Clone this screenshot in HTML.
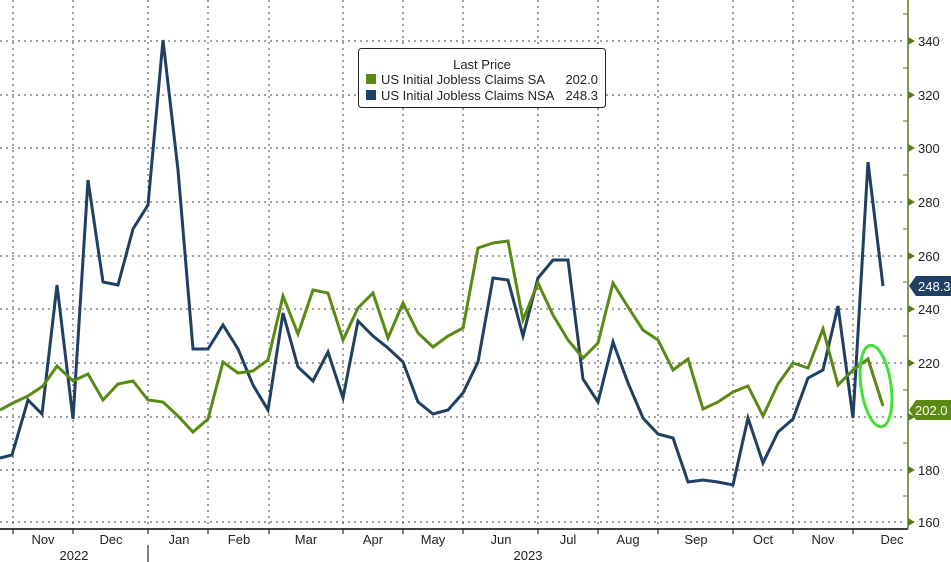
<!DOCTYPE html>
<html><head><meta charset="utf-8"><style>
html,body{margin:0;padding:0;background:#fff;}
svg{display:block;font-family:"Liberation Sans",sans-serif;}
</style></head><body>
<svg width="951" height="562" viewBox="0 0 951 562">
<rect width="951" height="562" fill="#fff"/>
<g stroke="#444" stroke-width="1" stroke-dasharray="2,4">
<line x1="0" y1="41" x2="906" y2="41"/><line x1="0" y1="95" x2="906" y2="95"/>
<line x1="0" y1="148" x2="906" y2="148"/><line x1="0" y1="202" x2="906" y2="202"/>
<line x1="0" y1="256" x2="906" y2="256"/><line x1="0" y1="309" x2="906" y2="309"/>
<line x1="0" y1="363" x2="906" y2="363"/><line x1="0" y1="417" x2="906" y2="417"/>
<line x1="0" y1="470" x2="906" y2="470"/><line x1="0" y1="522" x2="906" y2="522"/>
<line x1="13" y1="0" x2="13" y2="528"/><line x1="73" y1="0" x2="73" y2="528"/>
<line x1="148" y1="0" x2="148" y2="528"/><line x1="208" y1="0" x2="208" y2="528"/>
<line x1="269" y1="0" x2="269" y2="528"/><line x1="343" y1="0" x2="343" y2="528"/>
<line x1="403" y1="0" x2="403" y2="528"/><line x1="463" y1="0" x2="463" y2="528"/>
<line x1="538" y1="0" x2="538" y2="528"/><line x1="598" y1="0" x2="598" y2="528"/>
<line x1="658" y1="0" x2="658" y2="528"/><line x1="733" y1="0" x2="733" y2="528"/>
<line x1="793" y1="0" x2="793" y2="528"/><line x1="853" y1="0" x2="853" y2="528"/>
</g>
<line x1="0" y1="529" x2="908" y2="529" stroke="#000" stroke-width="1.5"/>
<g stroke="#000" stroke-width="1">
<line x1="13" y1="529" x2="13" y2="534"/><line x1="73" y1="529" x2="73" y2="534"/><line x1="148" y1="529" x2="148" y2="534"/><line x1="208" y1="529" x2="208" y2="534"/><line x1="269" y1="529" x2="269" y2="534"/><line x1="343" y1="529" x2="343" y2="534"/><line x1="403" y1="529" x2="403" y2="534"/><line x1="463" y1="529" x2="463" y2="534"/><line x1="538" y1="529" x2="538" y2="534"/><line x1="598" y1="529" x2="598" y2="534"/><line x1="658" y1="529" x2="658" y2="534"/><line x1="733" y1="529" x2="733" y2="534"/><line x1="793" y1="529" x2="793" y2="534"/><line x1="853" y1="529" x2="853" y2="534"/>
<line x1="148" y1="545" x2="148" y2="562"/>
</g>
<line x1="908" y1="0" x2="908" y2="529" stroke="#5a7a1a" stroke-width="1.5"/>
<g fill="#5a7a1a">
<path d="M908,37 l7,4 l-7,4z"/><path d="M908,91 l7,4 l-7,4z"/><path d="M908,144 l7,4 l-7,4z"/><path d="M908,198 l7,4 l-7,4z"/><path d="M908,252 l7,4 l-7,4z"/><path d="M908,305 l7,4 l-7,4z"/><path d="M908,359 l7,4 l-7,4z"/><path d="M908,413 l7,4 l-7,4z"/><path d="M908,466 l7,4 l-7,4z"/><path d="M908,518 l7,4 l-7,4z"/>
</g>
<g stroke="#5a7a1a"><line x1="903" y1="14" x2="908" y2="14"/><line x1="903" y1="68" x2="908" y2="68"/><line x1="903" y1="121" x2="908" y2="121"/><line x1="903" y1="175" x2="908" y2="175"/><line x1="903" y1="229" x2="908" y2="229"/><line x1="903" y1="282" x2="908" y2="282"/><line x1="903" y1="336" x2="908" y2="336"/><line x1="903" y1="390" x2="908" y2="390"/><line x1="903" y1="443" x2="908" y2="443"/><line x1="903" y1="496" x2="908" y2="496"/></g>
<g font-size="13" fill="#222">
<text x="918" y="46">340</text><text x="918" y="100">320</text><text x="918" y="153">300</text><text x="918" y="207">280</text><text x="918" y="261">260</text><text x="918" y="314">240</text><text x="918" y="368">220</text><text x="918" y="475">180</text><text x="918" y="527">160</text>
</g>
<g font-size="13" fill="#222" text-anchor="middle">
<text x="43" y="544">Nov</text><text x="111" y="544">Dec</text><text x="179" y="544">Jan</text><text x="239" y="544">Feb</text><text x="306" y="544">Mar</text><text x="373" y="544">Apr</text><text x="433" y="544">May</text><text x="501" y="544">Jun</text><text x="568" y="544">Jul</text><text x="628" y="544">Aug</text><text x="696" y="544">Sep</text><text x="763" y="544">Oct</text><text x="823" y="544">Nov</text><text x="892" y="544">Dec</text>
<text x="74" y="560">2022</text><text x="528" y="560">2023</text>
</g>
<polyline fill="none" stroke="#1f3f63" stroke-width="3" stroke-linejoin="miter" points="0,458 12,455 28,400 42,414 57,285 73,419 88,180 103,282 118,285 133,229 148,205 163,40 178,170 193,349 208,349 223,325 238,349 253,385 268,410 283,313 298,367 313,381 328,352 343,398 358,321 373,336 388,348 403,362 418,402 433,414 448,410 463,393 478,362 493,278 508,280 523,336 538,278 553,260 568,260 583,379 598,402 613,342 628,383 643,418 658,434 673,438 688,482 703,480 718,482 733,485 748,418 763,463 778,432 793,419 808,378 823,370 838,306 853,418 868,162 883,286"/>
<polyline fill="none" stroke="#5a8a14" stroke-width="3" points="0,410 13,403 28,396 43,386 57,366 73,381 88,374 103,400 118,384 133,381 148,400 163,402 178,416 193,432 208,419 223,362 238,373 253,371 268,360 283,296 298,334 313,290 328,293 343,340 358,308 373,293 388,338 403,303 418,333 433,347 448,336 463,328 478,248 493,243 508,241 523,320 538,283 553,315 568,340 583,358 598,343 613,283 628,307 643,330 658,340 673,370 688,359 703,409 718,402 733,392 748,386 763,416 778,384 793,363 808,368 823,329 838,385 853,370 868,359 883,406"/>
<ellipse cx="876" cy="386" rx="15" ry="41" transform="rotate(-8 876 386)" fill="none" stroke="#44e03a" stroke-width="3"/>
<path d="M909,286 l7,-10 h35 v20 h-35z" fill="#1f3f63"/>
<text x="918" y="291" font-size="13" fill="#fff">248.3</text>
<path d="M909,410 l7,-10 h35 v20 h-35z" fill="#5a8a14"/>
<text x="915" y="415" font-size="13" fill="#fff">202.0</text>
<rect x="358.5" y="48.5" width="247" height="59" rx="3" fill="#fff" stroke="#222"/>
<text x="482" y="69" font-size="13" fill="#222" text-anchor="middle">Last Price</text>
<rect x="366" y="74" width="10" height="10" fill="#5a8a14"/>
<rect x="366" y="90" width="10" height="10" fill="#1f3f63"/>
<text x="381" y="84" font-size="13" fill="#222">US Initial Jobless Claims SA</text>
<text x="598" y="84" font-size="13" fill="#222" text-anchor="end">202.0</text>
<text x="381" y="100" font-size="13" fill="#222">US Initial Jobless Claims NSA</text>
<text x="598" y="100" font-size="13" fill="#222" text-anchor="end">248.3</text>
</svg>
</body></html>
